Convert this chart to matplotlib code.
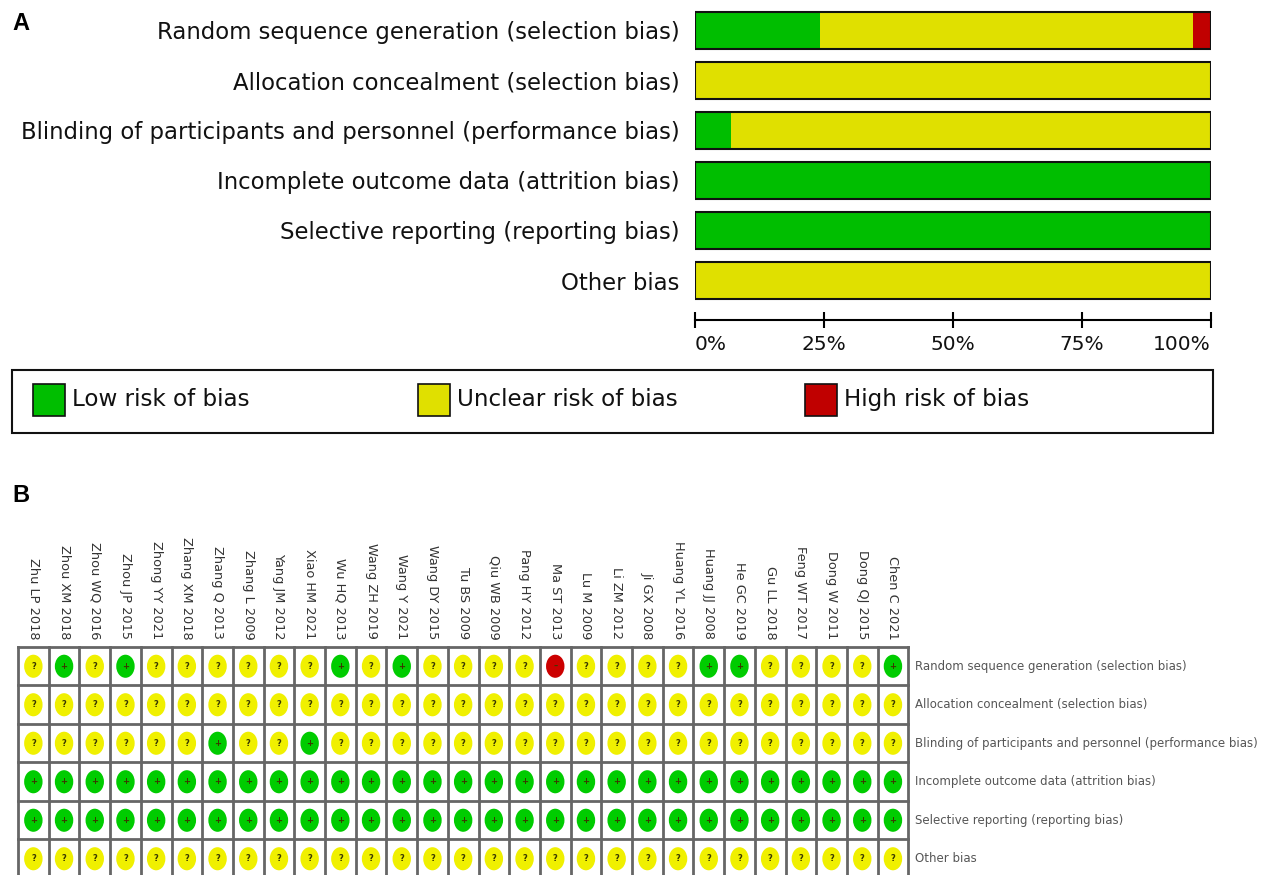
import matplotlib.pyplot as plt
from matplotlib.patches import Rectangle, Ellipse

# risk of bias data: '+' low, '?' unclear, '-' high
studies = ["Zhu LP 2018", "Zhou XM 2018", "Zhou WQ 2016", "Zhou JP 2015", "Zhong YY 2021",
           "Zhang XM 2018", "Zhang Q 2013", "Zhang L 2009", "Yang JM 2012", "Xiao HM 2021",
           "Wu HQ 2013", "Wang ZH 2019", "Wang Y 2021", "Wang DY 2015", "Tu BS 2009",
           "Qiu WB 2009", "Pang HY 2012", "Ma ST 2013", "Lu M 2009", "Li ZM 2012",
           "Ji GX 2008", "Huang YL 2016", "Huang JJ 2008", "He GC 2019", "Gu LL 2018",
           "Feng WT 2017", "Dong W 2011", "Dong QJ 2015", "Chen C 2021"]
domains = ["Random sequence generation (selection bias)",
           "Allocation concealment (selection bias)",
           "Blinding of participants and personnel (performance bias)",
           "Incomplete outcome data (attrition bias)",
           "Selective reporting (reporting bias)",
           "Other bias"]
judgements = ["?+?+??????+?+????-????++????+",
              "?????????????????????????????",
              "??????+??+???????????????????",
              "+++++++++++++++++++++++++++++",
              "+++++++++++++++++++++++++++++",
              "?????????????????????????????"]
levels = ["+", "?", "-"]
level_names = ["Low risk of bias", "Unclear risk of bias", "High risk of bias"]
bar_colors = ["#00BE00", "#E0E000", "#C00000"]
dot_colors = ["#00CC00", "#F0F000", "#CC0000"]

W, H = 1271, 875
fig = plt.figure(figsize=(W / 100, H / 100), dpi=100)


def px(x, y, w, h):
    return [x / W, 1 - (y + h) / H, w / W, h / H]


# ---- panel A: summary bars
ax = fig.add_axes(px(695, 5, 516, 315))
n = len(studies)
rows = range(len(domains))
left = [0] * len(domains)
for lev, col in zip(levels, bar_colors):
    pct = [j.count(lev) / n * 100 for j in judgements]
    ax.barh(rows, pct, left=left, height=0.74, color=col, linewidth=0)
    left = [a + b for a, b in zip(left, pct)]
ax.barh(rows, [100] * len(domains), height=0.74, fill=False, edgecolor="#111111", linewidth=1.5)
ax.set_xlim(0, 100)
ax.set_ylim(5.79, -0.51)
ax.set_yticks(list(rows))
ax.set_yticklabels(domains, fontsize=16.4, color="#111111")
ax.tick_params(axis="y", length=0, pad=11)
ax.set_xticks([0, 25, 50, 75, 100])
ax.set_xticklabels(["0%", "25%", "50%", "75%", "100%"], fontsize=14.5, color="#111111")
ax.tick_params(axis="x", direction="inout", length=12, width=1.5, pad=5)
labs = ax.get_xticklabels()
labs[0].set_horizontalalignment("left")
labs[-1].set_horizontalalignment("right")
for s in ["left", "right", "top"]:
    ax.spines[s].set_visible(False)
ax.spines["bottom"].set_linewidth(1.5)

fig.text(12 / W, 1 - 23 / H, "A", fontsize=17, fontweight="bold", va="center",
         family="Liberation Sans")

# legend box
fig.patches.append(Rectangle((12 / W, 1 - 433 / H), 1201 / W, 63 / H, fill=False,
                             edgecolor="#111111", linewidth=1.5, transform=fig.transFigure))
for x0, name, col in zip([33, 418, 805], level_names, bar_colors):
    fig.patches.append(Rectangle((x0 / W, 1 - 416 / H), 32 / W, 32 / H, facecolor=col,
                                 edgecolor="#111111", linewidth=1.2, transform=fig.transFigure))
    fig.text((x0 + 39) / W, 1 - 400 / H, name, fontsize=16.6, va="center", color="#111111")

# ---- panel B: traffic light grid
fig.text(12 / W, 1 - 495 / H, "B", fontsize=17, fontweight="bold", va="center",
         family="Liberation Sans")
cw, rh = 30.7, 38.5
bx = fig.add_axes(px(18, 647, cw * n, rh * len(domains)))
bx.set_xlim(0, n)
bx.set_ylim(len(domains), 0)
bx.axis("off")
for i in range(n + 1):
    bx.plot([i, i], [0, len(domains)], color="#666666", lw=2, clip_on=False)
for r in range(len(domains) + 1):
    bx.plot([0, n], [r, r], color="#666666", lw=2, clip_on=False)
for r, j in enumerate(judgements):
    for c, v in enumerate(j):
        k = levels.index(v)
        bx.add_patch(Ellipse((c + 0.5, r + 0.5), 0.6, 0.6, facecolor=dot_colors[k],
                             edgecolor="none"))
        bx.text(c + 0.5, r + 0.5, ["+", "?", "–"][k], fontsize=6, ha="center",
                va="center", color="#3A3A00", fontweight="bold")
for c, s in enumerate(studies):
    bx.text(c + 0.5, -0.2, s, rotation=-90, ha="center", va="bottom", fontsize=9.3,
            color="#333333")
for r, d in enumerate(domains):
    bx.text(n + 0.22, r + 0.5, d, fontsize=8.5, va="center", color="#555555")

fig.savefig("out.png", dpi=100)
